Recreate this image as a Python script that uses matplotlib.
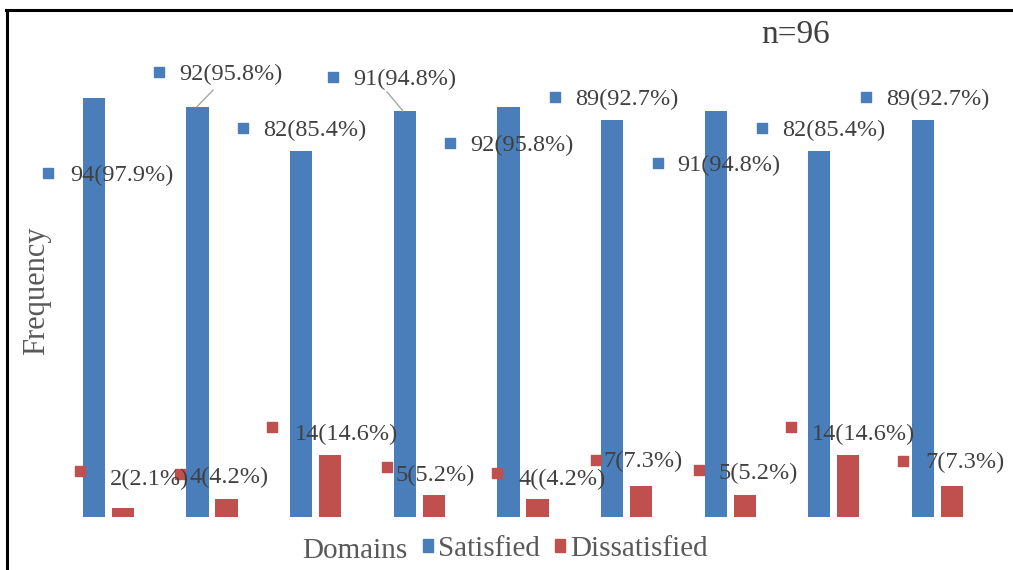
import matplotlib
matplotlib.use("Agg")
import matplotlib.pyplot as plt
from matplotlib.lines import Line2D
from matplotlib.patches import Patch
import numpy as np

plt.rcParams['font.family'] = ['Liberation Serif', 'DejaVu Serif']

# data
satisfied = [94, 92, 82, 91, 92, 89, 91, 82, 89]
dissatisfied = [2, 4, 14, 5, 4, 7, 5, 14, 7]
sat_labels = ['94(97.9%)', '92(95.8%)', '82(85.4%)', '91(94.8%)', '92(95.8%)',
              '89(92.7%)', '91(94.8%)', '82(85.4%)', '89(92.7%)']
dis_labels = ['2(2.1%)', '4(4.2%)', '14(14.6%)', '5(5.2%)', '4((4.2%)',
              '7(7.3%)', '5(5.2%)', '14(14.6%)', '7(7.3%)']

# label key positions (data coords) - dragged labels in the original
sat_key_x = [-0.584, 0.487, 1.298, 2.167, 3.297, 4.310, 5.304, 6.308, 7.312]
sat_key_y = [77.1, 99.8, 87.2, 98.7, 83.9, 94.2, 79.4, 87.2, 94.2]
sat_gap = [22, 20, 20, 20, 20, 20, 19, 20, 20]
dis_key_x = [-0.275, 0.690, 1.578, 2.688, 3.750, 4.706, 5.700, 6.588, 7.669]
dis_key_y = [10.3, 9.6, 20.2, 11.2, 9.9, 12.8, 10.5, 20.2, 12.6]
dis_gap = [30, 10, 23, 8, 21, 7, 19, 21, 22]
dis_dy = [-14, -9, -13, -14, -12, -7, -9, -13, -7]
# leader lines (bar top -> label)
leaders = [((0.854, 92), (1.009, 95.7)), ((2.843, 91), (2.688, 95.3))]

blue = '#4A7EBB'
red = '#C0504D'
txt = '#404040'
W, H = 1013, 570

fig = plt.figure(figsize=(W / 100, H / 100), dpi=100)
ax = fig.add_axes([56.7 / W, 53 / H, 932.5 / W, 446 / H])
x = np.arange(len(satisfied))
bw = 0.215
ax.bar(x - 0.14, satisfied, bw, color=blue, label='Satisfied')
ax.bar(x + 0.14, dissatisfied, bw, color=red, label='Dissatisfied')
ax.set_xlim(-0.5, 8.5)
ax.set_ylim(0, 100)
ax.axis('off')

for (x0, y0), (x1, y1) in leaders:
    ax.plot([x0, x1], [y0, y1], color='#a6a6a6', lw=1)

ax.scatter(sat_key_x, sat_key_y, marker='s', s=42, color=blue, zorder=3, clip_on=False)
ax.scatter(dis_key_x, dis_key_y, marker='s', s=42, color=red, zorder=3, clip_on=False)
for i in range(len(satisfied)):
    ax.annotate(sat_labels[i], (sat_key_x[i], sat_key_y[i]), xytext=(sat_gap[i], -8),
                textcoords='offset pixels', va='baseline', ha='left',
                fontsize=17.5, color=txt, annotation_clip=False)
    ax.annotate(dis_labels[i], (dis_key_x[i], dis_key_y[i]), xytext=(dis_gap[i], dis_dy[i]),
                textcoords='offset pixels', va='baseline', ha='left',
                fontsize=17.5, color=txt, annotation_clip=False)

fig.text(796 / W, 1 - 43 / H, 'n=96', fontsize=24, color=txt, ha='center', va='baseline')
fig.text(37 / W, 1 - 291 / H, 'Frequency', fontsize=22, color='#595959',
         rotation=90, ha='center', va='center')
fig.text(302 / W, 1 - 558 / H, 'Domains', fontsize=21, color='#595959', va='baseline')

handles = [Patch(color=blue), Patch(color=red)]
fig.legend(handles, ['Satisfied', 'Dissatisfied'], loc='center left',
           bbox_to_anchor=(423 / W, 1 - 549 / H), ncol=2, frameon=False,
           fontsize=21, labelcolor='#595959', handlelength=0.34, handleheight=0.34,
           handletextpad=0.17, columnspacing=0.52, borderpad=0, borderaxespad=0)

# border (only top and left visible in the crop)
fig.add_artist(Line2D([7 / W, 7 / W], [0, 1 - 10 / H], transform=fig.transFigure,
                      color='black', lw=2.2))
fig.add_artist(Line2D([6 / W, 1], [1 - 10 / H, 1 - 10 / H], transform=fig.transFigure,
                      color='black', lw=2.2))

fig.savefig('out.png', dpi=100)
